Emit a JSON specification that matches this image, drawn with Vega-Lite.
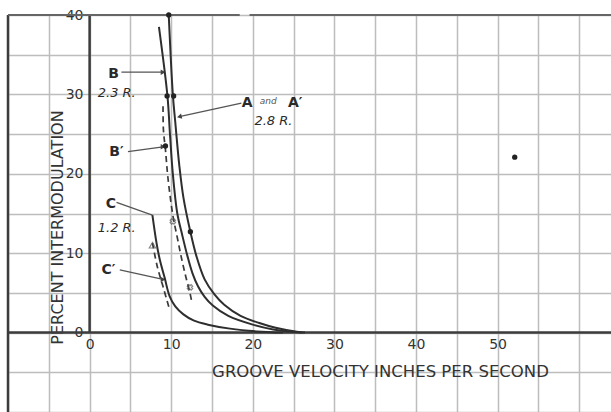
{
  "$schema": "https://vega.github.io/schema/vega-lite/v6.json",
  "width": 603,
  "height": 397,
  "autosize": {"type": "none"},
  "padding": {"top": 15, "left": 8, "right": 0, "bottom": 0},
  "background": "#ffffff",
  "config": {"view": {"stroke": null}},
  "datasets": {
    "curves": [
      {"s": "A", "x": 9.7, "y": 40}, {"s": "A", "x": 10.2, "y": 30}, {"s": "A", "x": 10.5, "y": 26.5},
      {"s": "A", "x": 11.0, "y": 21}, {"s": "A", "x": 11.5, "y": 17}, {"s": "A", "x": 12.35, "y": 12.7},
      {"s": "A", "x": 13.1, "y": 9.6}, {"s": "A", "x": 14.1, "y": 6.7}, {"s": "A", "x": 15.3, "y": 4.8},
      {"s": "A", "x": 16.5, "y": 3.5}, {"s": "A", "x": 18.5, "y": 2.1}, {"s": "A", "x": 20.8, "y": 1.2},
      {"s": "A", "x": 22.8, "y": 0.6}, {"s": "A", "x": 25.4, "y": 0.1}, {"s": "A", "x": 26.4, "y": 0},
      {"s": "B", "x": 8.5, "y": 38.5}, {"s": "B", "x": 9.55, "y": 29.7}, {"s": "B", "x": 9.85, "y": 25},
      {"s": "B", "x": 10.2, "y": 20}, {"s": "B", "x": 10.75, "y": 15}, {"s": "B", "x": 11.35, "y": 12.3},
      {"s": "B", "x": 12.0, "y": 9.6}, {"s": "B", "x": 12.6, "y": 7.5}, {"s": "B", "x": 13.3, "y": 5.8},
      {"s": "B", "x": 14.1, "y": 4.5}, {"s": "B", "x": 15.1, "y": 3.4}, {"s": "B", "x": 17.0, "y": 2.1},
      {"s": "B", "x": 20.0, "y": 1.0}, {"s": "B", "x": 22.5, "y": 0.4}, {"s": "B", "x": 26.0, "y": 0},
      {"s": "C", "x": 7.7, "y": 14.8}, {"s": "C", "x": 8.2, "y": 11.3}, {"s": "C", "x": 8.6, "y": 9.2},
      {"s": "C", "x": 9.2, "y": 6.9}, {"s": "C", "x": 9.8, "y": 4.6}, {"s": "C", "x": 10.5, "y": 3.3},
      {"s": "C", "x": 11.5, "y": 2.3}, {"s": "C", "x": 12.8, "y": 1.5}, {"s": "C", "x": 14.5, "y": 1.0},
      {"s": "C", "x": 17.2, "y": 0.5}, {"s": "C", "x": 20.5, "y": 0.15}, {"s": "C", "x": 23.7, "y": 0},
      {"s": "B′", "x": 9.0, "y": 28.5}, {"s": "B′", "x": 9.05, "y": 25.5}, {"s": "B′", "x": 9.3, "y": 23.0},
      {"s": "B′", "x": 9.6, "y": 19.5}, {"s": "B′", "x": 10.2, "y": 14.8}, {"s": "B′", "x": 10.8, "y": 11.7},
      {"s": "B′", "x": 11.3, "y": 9.2}, {"s": "B′", "x": 11.8, "y": 7.0}, {"s": "B′", "x": 12.3, "y": 5.0},
      {"s": "B′", "x": 12.5, "y": 4.0},
      {"s": "C′", "x": 7.7, "y": 11.3}, {"s": "C′", "x": 8.3, "y": 8.3}, {"s": "C′", "x": 9.0, "y": 5.8},
      {"s": "C′", "x": 9.8, "y": 2.9}
    ],
    "frame": [
      {"x": -10, "y": -10, "x2": -10, "y2": 40},
      {"x": 0, "y": 0, "x2": 0, "y2": 40},
      {"x": -10, "y": 0, "x2": 64, "y2": 0}
    ],
    "topline": [
      {"x": -10, "y": 40, "x2": 18.4, "y2": 40},
      {"x": 19.6, "y": 40, "x2": 64, "y2": 40}
    ],
    "leaders": [
      {"x": 3.9, "y": 32.8, "x2": 9.0, "y2": 32.8},
      {"x": 18.6, "y": 28.9, "x2": 11.0, "y2": 27.2},
      {"x": 4.7, "y": 22.8, "x2": 9.0, "y2": 23.4},
      {"x": 3.3, "y": 16.4, "x2": 7.7, "y2": 14.8},
      {"x": 3.7, "y": 7.9, "x2": 9.0, "y2": 6.7}
    ],
    "heads": [
      {"x": 9.0, "y": 32.8}, {"x": 9.0, "y": 23.4}, {"x": 9.0, "y": 6.7}
    ],
    "headsA": [{"x": 11.0, "y": 27.2}],
    "dots": [
      {"x": 9.7, "y": 40}, {"x": 10.3, "y": 29.8}, {"x": 9.5, "y": 29.8},
      {"x": 12.35, "y": 12.7}, {"x": 9.3, "y": 23.5}, {"x": 52.1, "y": 22.1}
    ],
    "crosses": [{"x": 10.2, "y": 14.0}, {"x": 12.3, "y": 5.7}],
    "tri": [{"x": 7.7, "y": 11.0}],
    "letters": [
      {"t": "B", "x": 2.94, "y": 32.6},
      {"t": "B′", "x": 3.3, "y": 22.8},
      {"t": "C", "x": 2.6, "y": 16.2},
      {"t": "C′", "x": 2.3, "y": 7.9},
      {"t": "A", "x": 19.3, "y": 28.9},
      {"t": "A′", "x": 25.2, "y": 28.9}
    ],
    "small": [{"t": "and", "x": 21.9, "y": 29.2}],
    "ratios": [
      {"t": "2.3 R.", "x": 1.0, "y": 30.2},
      {"t": "2.8 R.", "x": 20.2, "y": 26.7},
      {"t": "1.2 R.", "x": 1.0, "y": 13.2}
    ]
  },
  "encoding": {
    "x": {
      "field": "x", "type": "quantitative",
      "scale": {"domain": [-10, 63.9], "nice": false, "zero": false},
      "axis": {
        "values": [-10, -5, 0, 5, 10, 15, 20, 25, 30, 35, 40, 45, 50, 55, 60],
        "labelExpr": "datum.value >= 0 && datum.value <= 50 && datum.value % 10 == 0 ? datum.label : ''",
        "offset": -79, "domain": false, "ticks": false,
        "grid": true, "gridColor": "#bdbdbd", "gridWidth": 1.5,
        "labelFont": "DejaVu Sans", "labelFontSize": 14, "labelColor": "#333333", "labelPadding": 4,
        "labelFlush": false, "labelOverlap": false,
        "title": "GROOVE  VELOCITY  INCHES  PER  SECOND",
        "titleFont": "DejaVu Sans", "titleFontSize": 16.5, "titleFontWeight": "normal", "titleColor": "#333333",
        "titleX": 372, "titleY": 38, "titleAlign": "center", "titleBaseline": "middle"
      }
    },
    "y": {
      "field": "y", "type": "quantitative",
      "scale": {"domain": [-10, 40], "nice": false, "zero": false},
      "axis": {
        "values": [-10, -5, 0, 5, 10, 15, 20, 25, 30, 35, 40],
        "labelExpr": "datum.value >= 0 && datum.value % 10 == 0 ? datum.label : ''",
        "offset": -82, "domain": false, "ticks": false,
        "grid": true, "gridColor": "#bdbdbd", "gridWidth": 1.5,
        "labelFont": "DejaVu Sans", "labelFontSize": 14, "labelColor": "#333333", "labelPadding": 7,
        "labelBaseline": "middle", "labelFlush": false, "labelOverlap": false,
        "title": "PERCENT INTERMODULATION",
        "titleFont": "DejaVu Sans", "titleFontSize": 16, "titleFontWeight": "normal", "titleColor": "#333333",
        "titleX": -33, "titleY": 212, "titleAngle": 270, "titleAlign": "center", "titleBaseline": "middle"
      }
    }
  },
  "layer": [
    {"data": {"name": "frame"}, "mark": {"type": "rule", "color": "#3c3c3c", "strokeWidth": 2.5},
     "encoding": {"x2": {"field": "x2"}, "y2": {"field": "y2"}}},
    {"data": {"name": "topline"}, "mark": {"type": "rule", "color": "#666666", "strokeWidth": 1.8},
     "encoding": {"x2": {"field": "x2"}, "y2": {"field": "y2"}}},
    {"data": {"name": "leaders"}, "mark": {"type": "rule", "color": "#555555", "strokeWidth": 1.3},
     "encoding": {"x2": {"field": "x2"}, "y2": {"field": "y2"}}},
    {"data": {"name": "heads"}, "mark": {"type": "point", "shape": "triangle-right", "filled": true, "size": 30, "color": "#444444", "opacity": 1},
     "encoding": {}},
    {"data": {"name": "headsA"}, "mark": {"type": "point", "shape": "triangle-right", "filled": true, "size": 30, "color": "#444444", "angle": 167, "opacity": 1},
     "encoding": {}},
    {"data": {"name": "curves"}, "transform": [{"filter": "datum.s == 'A' || datum.s == 'B' || datum.s == 'C'"}],
     "mark": {"type": "line", "interpolate": "catmull-rom", "color": "#2e2e2e", "strokeWidth": 2},
     "encoding": {"detail": {"field": "s"}, "order": {"field": "y", "sort": "descending"}}},
    {"data": {"name": "curves"}, "transform": [{"filter": "datum.s == 'B′' || datum.s == 'C′'"}],
     "mark": {"type": "line", "interpolate": "catmull-rom", "color": "#3a3a3a", "strokeWidth": 1.7, "strokeDash": [6, 4]},
     "encoding": {"detail": {"field": "s"}, "order": {"field": "y", "sort": "descending"}}},
    {"data": {"name": "dots"}, "mark": {"type": "circle", "size": 28, "color": "#222222", "opacity": 1},
     "encoding": {}},
    {"data": {"name": "crosses"}, "mark": {"type": "point", "shape": "cross", "angle": 45, "size": 30, "color": "#555555", "strokeWidth": 1.2, "filled": false},
     "encoding": {}},
    {"data": {"name": "tri"}, "mark": {"type": "point", "shape": "triangle-up", "size": 40, "color": "#555555", "strokeWidth": 1.2, "filled": false},
     "encoding": {}},
    {"data": {"name": "letters"}, "mark": {"type": "text", "font": "DejaVu Sans", "fontSize": 14, "fontWeight": "bold", "color": "#2a2a2a", "align": "center", "baseline": "middle"},
     "encoding": {"text": {"field": "t"}}},
    {"data": {"name": "small"}, "mark": {"type": "text", "font": "DejaVu Sans", "fontSize": 9, "fontStyle": "italic", "color": "#555555", "align": "center", "baseline": "middle"},
     "encoding": {"text": {"field": "t"}}},
    {"data": {"name": "ratios"}, "mark": {"type": "text", "font": "DejaVu Sans", "fontSize": 13, "fontStyle": "italic", "color": "#2a2a2a", "align": "left", "baseline": "middle"},
     "encoding": {"text": {"field": "t"}}}
  ]
}
